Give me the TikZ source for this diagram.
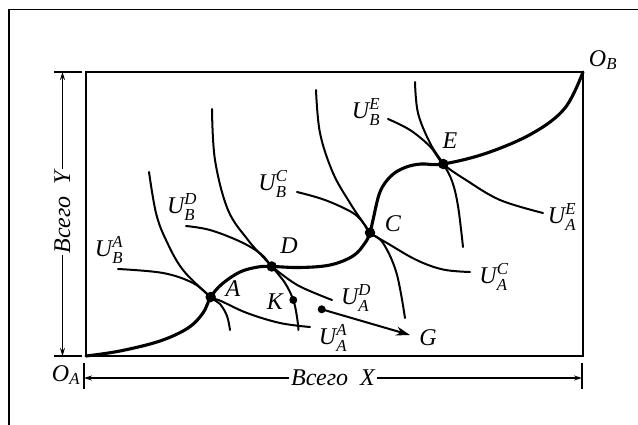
\documentclass[tikz,border=0pt]{standalone}
\usepackage{fontspec}
\usepackage{amsmath}
\setmainfont{Liberation Serif}
\usetikzlibrary{arrows.meta}
\tikzset{
  contract/.style={line width=3.1pt, line cap=round, line join=round},
  indiff/.style={line width=2pt, line cap=round},
  dimline/.style={line width=1.2pt},
  boxframe/.style={line width=2.9pt, line join=miter},
  outerframe/.style={line width=1.3pt},
  lbl/.style={font=\fontsize{24}{28}\selectfont\itshape, inner sep=1pt},
  bigdot/.style={circle, fill, inner sep=0pt, minimum size=10.5pt},
  smalldot/.style={circle, fill, inner sep=0pt, minimum size=8pt},
  dimtip/.style={-{Stealth[length=8pt,width=5pt]}},
}
\newcommand{\ulab}[2]{$\textit{U}^{\textit{#1}}_{\textit{#2}}$}
\begin{document}
\begin{tikzpicture}[x=1pt,y=-1pt]
\useasboundingbox (0,0) rectangle (638,425);
% outer frame (top and left only)
\draw[outerframe] (9,425) -- (9,9.5) -- (638,9.5);
% box
\coordinate (OA) at (86,356);
\coordinate (OB) at (583,72);
\draw[boxframe] (86,72) rectangle (583,356);
% key points
\coordinate (A) at (210.7,297);
\coordinate (D) at (271.7,266.5);
\coordinate (C) at (370,232.7);
\coordinate (E) at (443.3,164);
\coordinate (K) at (293.3,300);
\coordinate (Gs) at (321.7,309.3);
\coordinate (Ge) at (410,335);
% contract curve
\draw[contract] plot[smooth, tension=0.6] coordinates {
 (OA) (120,351) (160,341) (188,328) (203,313) (A) (222,284) (240,272) (258,267) (D)
 (300,267.5) (330,265) (353,256) (365,243) (C) (373,220) (380,192) (391,176) (405,167.5) (421,164) (E)
 (487,153) (533,133) (565,108) (OB)};
% indifference curves
\draw[indiff] plot[smooth, tension=0.6] coordinates {(118,269) (163,273) (193,283) (A) (221,301) (247,313) (280,323) (310,327)};
\draw[indiff] plot[smooth, tension=0.6] coordinates {(149,172) (156,213) (166,240) (183,270) (A) (220,304) (227,316) (230,330)};
\draw[indiff] plot[smooth, tension=0.6] coordinates {(212,109) (215,160) (228,210) (248,240) (264,258) (D) (285,283) (K) (297,317) (298.5,330)};
\draw[indiff] plot[smooth, tension=0.6] coordinates {(186,226) (210,230) (240,241.5) (261,254) (D) (280,273) (300,286.5) (332,300)};
\draw[indiff] plot[smooth, tension=0.6] coordinates {(316,90) (320,133) (333,173) (350,203) (362,221) (C) (383,243) (396.5,273) (405,318)};
\draw[indiff] plot[smooth, tension=0.6] coordinates {(297,192) (325,200) (353,213) (365,225) (C) (387,243) (416.5,260) (443,269.5) (470,272)};
\draw[indiff] plot[smooth, tension=0.6] coordinates {(415,82) (418,113) (430,143) (E) (452,181) (458,206) (463,247)};
\draw[indiff] plot[smooth, tension=0.6] coordinates {(388,119) (410,130) (430,146.5) (E) (466,180) (500,200) (543,213)};
% dots
\foreach \p in {A,D,C,E} \node[bigdot] (d\p) at (\p) {};
\node[smalldot] (dK) at (K) {};
\node[smalldot] (dG) at (Gs) {};
\draw[line width=2pt, -{Stealth[length=14pt,width=9pt]}] (dG.center) -- (Ge);
% point labels
\node[lbl] (lA) at (233,289) {A};
\node[lbl] (lD) at (289,246) {D};
\node[lbl] (lC) at (393,224) {C};
\node[lbl] (lE) at (450,141) {E};
\node[lbl] (lK) at (275,302) {K};
\node[lbl] (lG) at (428,338) {G};
\node[lbl] (lOB) at (603,60) {$\textit{O}_{\textit{B}}$};
\node[lbl] (lOA) at (66,375) {$\textit{O}_{\textit{A}}$};
% utility labels
\node[lbl] (uBA) at (109,250) {\ulab{A}{B}};
\node[lbl] (uBD) at (182,207) {\ulab{D}{B}};
\node[lbl] (uBC) at (273,184) {\ulab{C}{B}};
\node[lbl] (uBE) at (366,112) {\ulab{E}{B}};
\node[lbl] (uAE) at (562,217) {\ulab{E}{A}};
\node[lbl] (uAC) at (494,277) {\ulab{C}{A}};
\node[lbl] (uAD) at (356,298) {\ulab{D}{A}};
\node[lbl] (uAA) at (333,338) {\ulab{A}{A}};
% dimension X
\coordinate (xl) at (84,378);
\coordinate (xr) at (582,378);
\coordinate (xm) at (333,378);
\draw[dimline] (84,363) -- (84,389);
\draw[dimline] (582,363) -- (582,389);
\node[lbl, inner xsep=2pt] (tX) at (xm) {Всего\ \ X};
\draw[dimline, dimtip] (tX.west) -- (xl);
\draw[dimline, dimtip] (tX.east) -- (xr);
% dimension Y
\coordinate (yt) at (62.5,72);
\coordinate (yb) at (62.5,356);
\coordinate (ym) at (62.5,212);
\draw[dimline] (54,72) -- (82,72);
\draw[dimline] (54,356) -- (82,356);
\node[lbl, rotate=90, inner xsep=2pt] (tY) at (ym) {Всего\ \ Y};
\draw[dimline, dimtip] (tY.east) -- (yt);
\draw[dimline, dimtip] (tY.west) -- (yb);
\end{tikzpicture}
\end{document}
